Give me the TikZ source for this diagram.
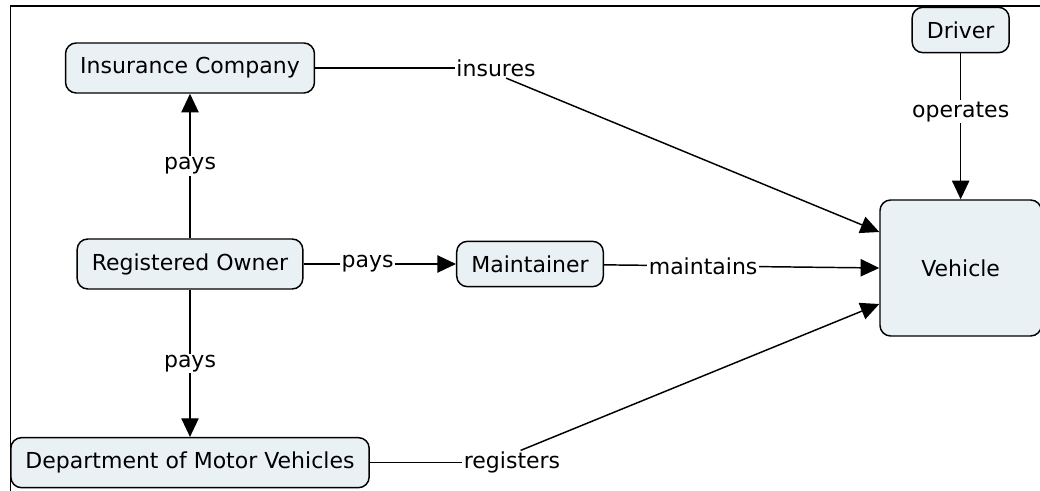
\documentclass[tikz,border=0pt]{standalone}
\usepackage{fontspec}
\setmainfont{DejaVu Sans}
\usetikzlibrary{positioning,arrows.meta}
\definecolor{cmapfill}{RGB}{233,241,245}
\begin{document}
\begin{tikzpicture}[x=0.75pt,y=-0.75pt]
			\tikzset{
			  VertexStyle/.style = {draw, line width=1.1pt, rounded corners=8pt,
			                        fill=cmapfill, inner xsep=11pt, minimum height=37.5pt,
			                        font=\fontsize{16.5}{19}\selectfont},
			  LabelStyle/.style = {fill=white, inner sep=1pt,
			                       font=\fontsize{16.5}{19}\selectfont},
			  EdgeStyle/.style = {line width=1.1pt},
			  ArrowStyle/.style = {EdgeStyle, -{Triangle[length=14pt,width=13pt]}} }
			\useasboundingbox (0,0) rectangle (1040,491);
			\draw[EdgeStyle] (10.5,491) -- (10.5,6) -- (1040,6);
			\node[VertexStyle] (owner) at (190,264) {Registered Owner};
			\node[VertexStyle, on grid, above=147pt of owner] (insurance) {Insurance Company};
			\node[VertexStyle, on grid, below=149pt of owner] (dmv) {Department of Motor Vehicles};
			\node[VertexStyle, on grid, right=255pt of owner, minimum height=34pt] (maintainer) {Maintainer};
			\node[VertexStyle, on grid, right=323pt of maintainer, yshift=-3pt,
			      minimum width=121pt, minimum height=102pt] (vehicle) {Vehicle};
			\node[VertexStyle, on grid, above=178.5pt of vehicle, minimum height=34pt] (driver) {Driver};
			\node[LabelStyle, on grid, right=229.5pt of insurance] (insures) {insures};
			\node[LabelStyle, on grid, right=241.5pt of dmv] (registers) {registers};
			\draw[ArrowStyle] (owner) -- node[LabelStyle] (paysIns) {pays} (insurance);
			\draw[ArrowStyle] (owner) -- node[LabelStyle] (paysDmv) {pays} (dmv);
			\draw[ArrowStyle] (owner) -- node[LabelStyle, pos=0.42] (paysMaint) {pays} (maintainer);
			\draw[ArrowStyle] (maintainer) -- node[LabelStyle, pos=0.36] (maintains) {maintains} (vehicle.west);
			\draw[ArrowStyle] (driver) -- node[LabelStyle, pos=0.4] (operates) {operates} (vehicle);
			\draw[EdgeStyle] (insurance) -- (insures);
			\draw[ArrowStyle] (insures.-45) -- ([yshift=27pt]vehicle.west);
			\draw[EdgeStyle] (dmv) -- (registers);
			\draw[ArrowStyle] (registers.55) -- ([yshift=-27pt]vehicle.west);
		\end{tikzpicture}
\end{document}
